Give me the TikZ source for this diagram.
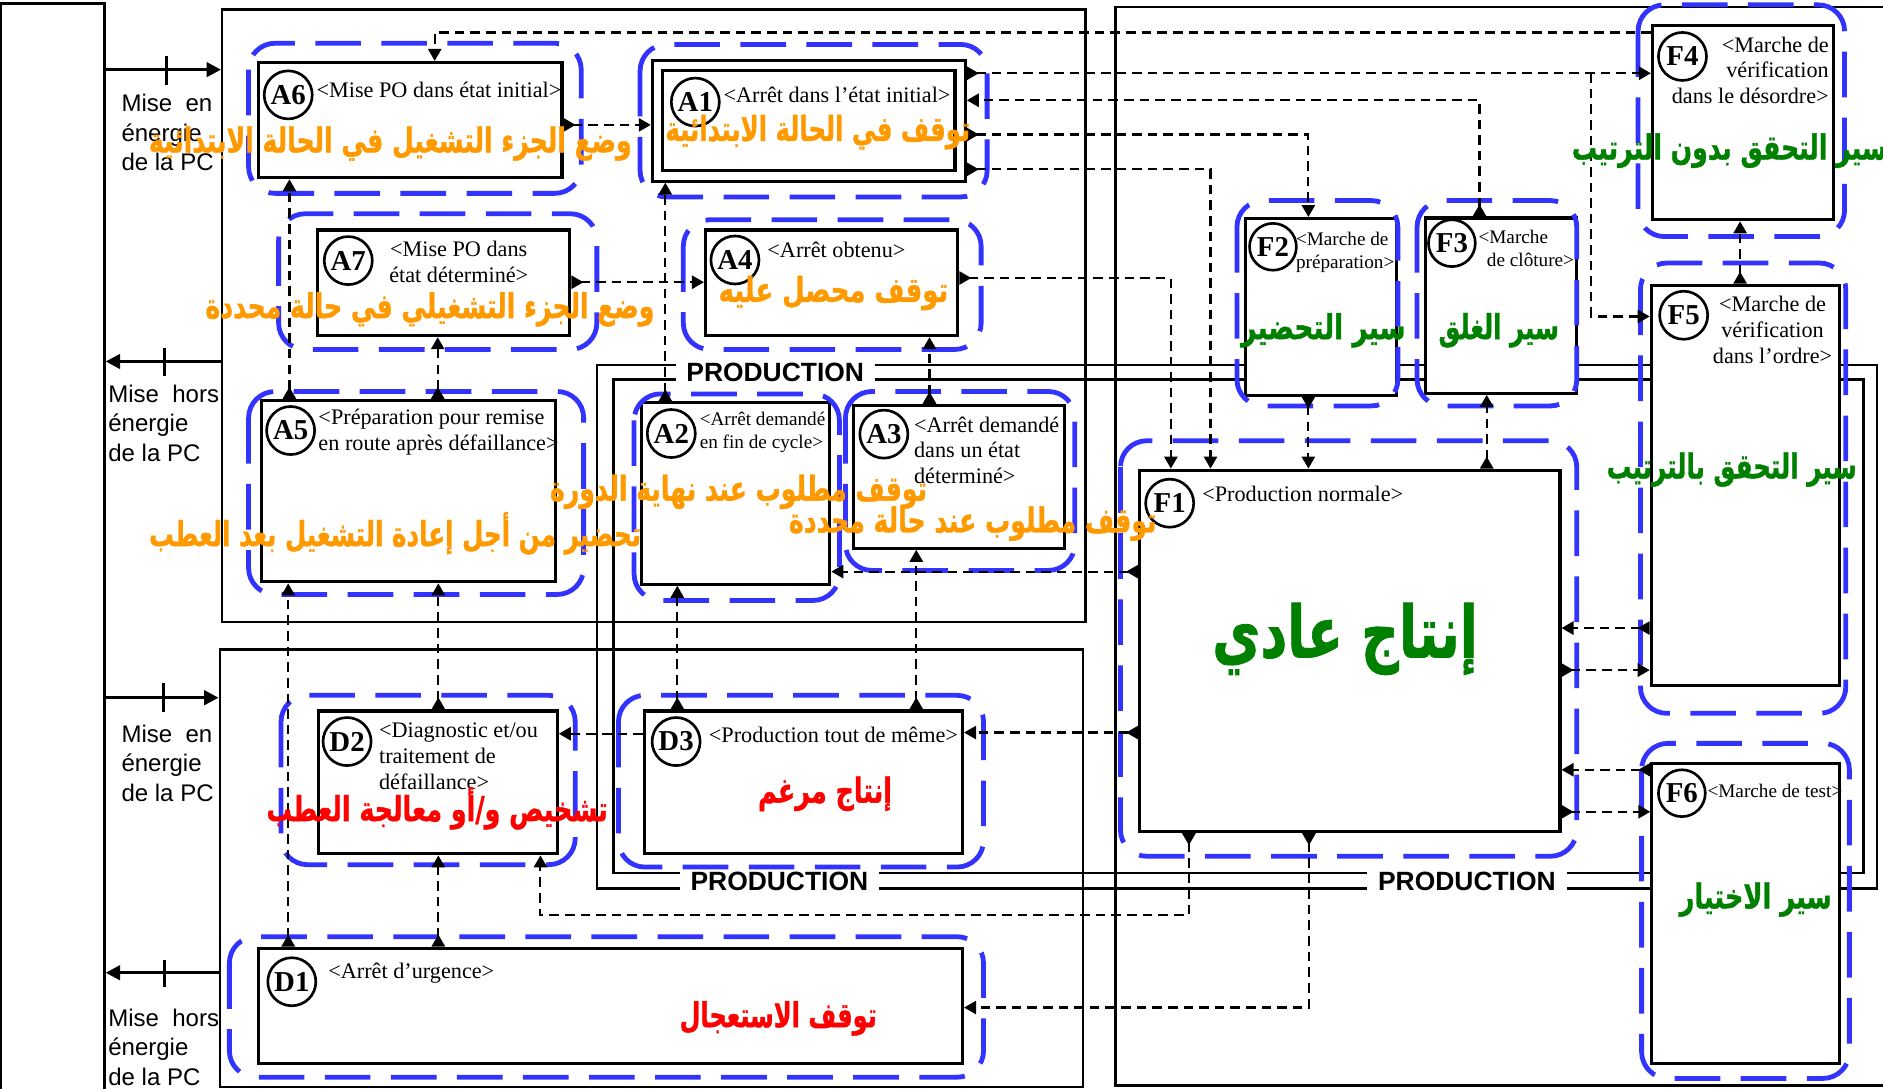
\documentclass[tikz,border=0pt]{standalone}
\usepackage{fontspec}
\usepackage{graphicx}
\setmainfont{Liberation Serif}
\setsansfont{Liberation Sans}
\newfontfamily\arabicfont[Script=Arabic, BoldFeatures={FakeBold=1.2}]{DejaVu Sans}
\TeXXeTstate=1
\usetikzlibrary{arrows.meta}

\definecolor{bleu}{RGB}{51,51,255}
\definecolor{orangeA}{RGB}{255,153,0}
\definecolor{vertF}{RGB}{0,128,0}
\definecolor{rougeD}{RGB}{255,0,0}

% arabic name, narrowed and raised a little to the look of the figure
\newcommand{\artexte}[2][0.95]{\scalebox{#1}[1.3]{\beginR #2\endR}}

\tikzset{
  etat/.style={draw, line width=2.6pt, fill=white, inner sep=0pt},
  num/.style={circle, draw, line width=2.2pt, fill=white, inner sep=0pt,
    minimum size=40pt, font=\bfseries\fontsize{24}{24}\selectfont},
  lbl/.style={inner sep=0pt, font=\fontsize{18.5}{21.5}\selectfont},
  lblp/.style={inner sep=0pt, font=\fontsize{16}{19}\selectfont},
  cadre/.style={draw=bleu, line width=4pt, dash pattern=on 38pt off 17pt,
    rounded corners=22pt},
  fleche/.style={line width=1.8pt, dash pattern=on 8pt off 5pt,
    -{Triangle[length=10pt,width=11pt]}},
  fleche2/.style={fleche,
    {Triangle[reversed,length=10pt,width=11pt]}-{Triangle[length=10pt,width=11pt]}},
  ar/.style={inner sep=0pt, font=\arabicfont\bfseries\fontsize{22}{22}\selectfont},
  zone/.style={draw, line width=2pt, inner sep=0pt},
  prod/.style={line width=2.2pt},
  prodlbl/.style={fill=white, inner xsep=9pt, inner ysep=2pt,
    font=\sffamily\bfseries\fontsize{22}{22}\selectfont},
  pc/.style={inner sep=0pt, align=left, anchor=west,
    font=\sffamily\fontsize{20}{24.5}\selectfont},
  alim/.style={line width=2.6pt, -{Triangle[length=12pt,width=12pt]}},
}

\begin{document}
\begin{tikzpicture}[x=1pt, y=-1pt]
  \useasboundingbox (0,0) rectangle (1568,906);

  % zones
  \node[zone, minimum width=86pt, minimum height=909pt] (pcbar) at (44,457.5) {};
  \node[zone, minimum width=719pt, minimum height=510pt] (boxA) at (544.5,263) {};
  \node[zone, minimum width=719pt, minimum height=364pt] (boxD) at (542.5,723) {};
  \node[zone, minimum width=646pt, minimum height=898pt] (boxF) at (1252,455) {};

  % production frame (double line)
  \draw[prod] (497,304) rectangle (1563,740);
  \draw[prod] (511,316) rectangle (1552,727);
  \node[prodlbl] (prodA) at (645.5,310) {PRODUCTION};
  \node[prodlbl] (prodD) at (649,734) {PRODUCTION};
  \node[prodlbl] (prodF) at (1221.5,734) {PRODUCTION};

  % A states
  \node[etat, minimum width=253pt, minimum height=96pt] (A6) at (341.5,100) {};
  \node[num] (nA6) at (240,79) {A6};
  \node[lbl] (tA6) at (365.5,75) {<Mise PO dans état initial>};

  \node[etat, double, double distance=6pt, outer sep=5.6pt,
    minimum width=252pt, minimum height=92pt] (A1) at (673.5,100.5) {};
  \node[num] (nA1) at (579,85) {A1};
  \node[lbl] (tA1) at (697,79) {<Arrêt dans l'état initial>};

  \node[etat, minimum width=210pt, minimum height=88pt] (A7) at (369.5,235.5) {};
  \node[num] (nA7) at (290,217) {A7};
  \node[lbl, align=center] (tA7) at (382,218) {<Mise PO dans\\état déterminé>};

  \node[etat, minimum width=210pt, minimum height=88pt] (A4) at (692.5,235.5) {};
  \node[num] (nA4) at (612,216.5) {A4};
  \node[lbl] (tA4) at (696.5,208) {<Arrêt obtenu>};

  \node[etat, minimum width=245pt, minimum height=151pt] (A5) at (340,409) {};
  \node[num] (nA5) at (242,358.5) {A5};
  \node[lbl, align=left, anchor=west] (tA5) at (265,360)
    {<Préparation pour remise\\en route après défaillance>};

  \node[etat, minimum width=157pt, minimum height=151pt] (A2) at (612.5,411) {};
  \node[num] (nA2) at (559,361) {A2};
  \node[lblp, align=left, anchor=west] (tA2) at (582.5,360) {<Arrêt demandé\\en fin de cycle>};

  \node[etat, minimum width=176pt, minimum height=119pt] (A3) at (798.5,397) {};
  \node[num] (nA3) at (736,361.5) {A3};
  \node[lbl, align=left, anchor=west] (tA3) at (761,375) {<Arrêt demandé\\dans un état\\déterminé>};

  % F states
  \node[etat, minimum width=350pt, minimum height=301pt] (F1) at (1124,542) {};
  \node[num] (nF1) at (974,419) {F1};
  \node[lbl, anchor=west] (tF1) at (1001,411) {<Production normale>};

  \node[etat, minimum width=126pt, minimum height=147pt] (F2) at (1100,255.5) {};
  \node[num, minimum size=39pt] (nF2) at (1060,205.5) {F2};
  \node[lblp, align=left, anchor=west] (tF2) at (1079,210) {<Marche de\\préparation>};

  \node[etat, minimum width=126pt, minimum height=146pt] (F3) at (1250,254.5) {};
  \node[num, minimum size=39pt] (nF3) at (1209,202.5) {F3};
  \node[lblp, align=left, anchor=west] (tF3) at (1231,207) {<Marche\\\hspace*{7pt}de clôture>};

  \node[etat, minimum width=151pt, minimum height=162pt] (F4) at (1451.5,102) {};
  \node[num] (nF4) at (1401,47) {F4};
  \node[lbl, align=right, anchor=east] (tF4) at (1523,58.5) {<Marche de\\vérification\\dans le désordre>};

  \node[etat, minimum width=157pt, minimum height=333pt] (F5) at (1453.5,404) {};
  \node[num] (nF5) at (1402,262.5) {F5};
  \node[lbl, align=center] (tF5) at (1476,274.5) {<Marche de\\vérification\\dans l'ordre>};

  \node[etat, minimum width=156pt, minimum height=250pt] (F6) at (1453.5,760.5) {};
  \node[num, minimum size=39pt] (nF6) at (1400.5,660.5) {F6};
  \node[lblp] (tF6) at (1478,659) {<Marche de test>};

  % D states
  \node[etat, minimum width=199pt, minimum height=119pt] (D2) at (364.5,651.5) {};
  \node[num] (nD2) at (289,617.5) {D2};
  \node[lbl, align=left, anchor=west] (tD2) at (315.5,629.5) {<Diagnostic et/ou\\traitement de\\défaillance>};

  \node[etat, minimum width=265pt, minimum height=119pt] (D3) at (669,651.5) {};
  \node[num] (nD3) at (563,617.5) {D3};
  \node[lbl] (tD3) at (694,612) {<Production tout de même>};

  \node[etat, minimum width=586pt, minimum height=96pt] (D1) at (508.5,837.5) {};
  \node[num] (nD1) at (243,817.5) {D1};
  \node[lbl] (tD1) at (342.5,810.5) {<Arrêt d’urgence>};

  % blue groups
  \draw[cadre] (207,36) rectangle (484,161);
  \draw[cadre] (533,37) rectangle (822,164);
  \draw[cadre] (232,178) rectangle (497,291);
  \draw[cadre] (569,183) rectangle (817,291);
  \draw[cadre] (207,326) rectangle (486,495);
  \draw[cadre] (528,328) rectangle (699,500);
  \draw[cadre] (704,326) rectangle (895,475);
  \draw[cadre] (234,579) rectangle (479,720);
  \draw[cadre] (515,579) rectangle (819,722);
  \draw[cadre] (191,780) rectangle (819,897);
  \draw[cadre] (933,367) rectangle (1313,713);
  \draw[cadre] (1030,167) rectangle (1164,338);
  \draw[cadre] (1180,167) rectangle (1313,338);
  \draw[cadre] (1364,4) rectangle (1536,197);
  \draw[cadre] (1366,219) rectangle (1537,594);
  \draw[cadre] (1367,619) rectangle (1540,898);

  % transitions
  \draw[fleche] (F4.west |- 0,27) -| (362,0 |- A6.north);
  \draw[fleche2] (A6.east |- 0,104) -- (A1.west |- 0,104);
  \draw[fleche2] (A7.east |- 0,235) -- (A4.west |- 0,235);
  \draw[fleche2] (A1.east |- 0,61) -- (F4.west |- 0,61);
  \draw[fleche] (1325,61) |- (F5.west |- 0,263.5);
  \draw[fleche2] (1232,0 |- F3.north) |- (A1.east |- 0,83.5);
  \draw[fleche2] (A1.east |- 0,112) -| (1089.5,0 |- F2.north);
  \draw[fleche2] (A1.east |- 0,141) -| (1008,0 |- F1.north);
  \draw[fleche2] (A4.east |- 0,231.5) -| (975,0 |- F1.north);
  \draw[fleche2] (774,0 |- A3.north) -- (774,0 |- A4.south);
  \draw[fleche2] (241,0 |- A5.north) -- (241,0 |- A6.south);
  \draw[fleche2] (364.5,0 |- A5.north) -- (364.5,0 |- A7.south);
  \draw[fleche2] (554,0 |- A2.north) -- (554,0 |- A1.south);
  \draw[fleche2] (F1.west |- 0,476) -- (A2.east |- 0,476);
  \draw[fleche2] (564,0 |- D3.north) -- (564,0 |- A2.south);
  \draw[fleche2] (763,0 |- D3.north) -- (763,0 |- A3.south);
  \draw[fleche2] (365,0 |- D2.north) -- (365,0 |- A5.south);
  \draw[fleche2] (240,0 |- D1.north) -- (240,0 |- A5.south);
  \draw[fleche2] (365,0 |- D1.north) -- (365,0 |- D2.south);
  \draw[fleche2] (990,0 |- F1.south) |- (450,762) -- (450,0 |- D2.south);
  \draw[fleche2] (1090,0 |- F1.south) |- (D1.east |- 0,839);
  \draw[fleche2] (F1.west |- 0,610) -- (D3.east |- 0,610);
  \draw[fleche] (D3.west |- 0,611) -- (D2.east |- 0,611);
  \draw[fleche2] (1089.5,0 |- F2.south) -- (1089.5,0 |- F1.north);
  \draw[fleche2] (1238,0 |- F1.north) -- (1238,0 |- F3.south);
  \draw[fleche2] (1449,0 |- F5.north) -- (1449,0 |- F4.south);
  \draw[fleche2] (F5.west |- 0,523) -- (F1.east |- 0,523);
  \draw[fleche2] (F1.east |- 0,558) -- (F5.west |- 0,558);
  \draw[fleche2] (F6.west |- 0,641) -- (F1.east |- 0,641);
  \draw[fleche2] (F1.east |- 0,676) -- (F6.west |- 0,676);

  % power of the control part
  \draw[alim] (pcbar.east |- 0,58) -- (boxA.west |- 0,58);
  \draw[line width=2.6pt] (139,47) -- (139,71);
  \draw[alim] (boxA.west |- 0,301) -- (pcbar.east |- 0,301);
  \draw[line width=2.6pt] (137,290) -- (137,313);
  \draw[alim] (pcbar.east |- 0,581) -- (boxD.west |- 0,581);
  \draw[line width=2.6pt] (136,569) -- (136,593);
  \draw[alim] (boxD.west |- 0,810) -- (pcbar.east |- 0,810);
  \draw[line width=2.6pt] (137,799) -- (137,822);
  \node[pc] (pc1) at (101,110.5) {Mise\ \ en\\énergie\\de la PC};
  \node[pc] (pc2) at (90,352.5) {Mise\ \ hors\\énergie\\de la PC};
  \node[pc] (pc3) at (101,635.5) {Mise\ \ en\\énergie\\de la PC};
  \node[pc] (pc4) at (90,872) {Mise\ \ hors\\énergie\\de la PC};

  % arabic names
  \node[ar, text=orangeA] (aA6) at (325,119.5) {\artexte{وضع الجزء التشغيل في الحالة الابتدائية}};
  \node[ar, text=orangeA] (aA1) at (681,110) {\artexte[0.92]{توقف في الحالة الابتدائية}};
  \node[ar, text=orangeA] (aA7) at (358,257.5) {\artexte{وضع الجزء التشغيلي في حالة محددة}};
  \node[ar, text=orangeA] (aA4) at (694,244) {\artexte[0.98]{توقف محصل عليه}};
  \node[ar, text=orangeA] (aA5) at (329,444) {\artexte[0.93]{تحضير من أجل إعادة التشغيل بعد العطب}};
  \node[ar, text=orangeA] (aA2) at (615,409.5) {\artexte{توقف مطلوب عند نهاية الدورة}};
  \node[ar, text=orangeA] (aA3) at (810,436) {\artexte{توقف مطلوب عند حالة محددة}};
  \node[ar, text=vertF, font=\arabicfont\bfseries\fontsize{46}{46}\selectfont] (aF1) at (1120,532) {\artexte{إنتاج عادي}};
  \node[ar, text=vertF] (aF2) at (1102,275) {\artexte[1]{سير التحضير}};
  \node[ar, text=vertF] (aF3) at (1248,275) {\artexte[0.92]{سير الغلق}};
  \node[ar, text=vertF] (aF4) at (1440,125.5) {\artexte{سير التحقق بدون الترتيب}};
  \node[ar, text=vertF] (aF5) at (1442,391) {\artexte[0.93]{سير التحقق بالترتيب}};
  \node[ar, text=vertF] (aF6) at (1462,749) {\artexte[0.97]{سير الاختيار}};
  \node[ar, text=rougeD] (aD2) at (364,673) {\artexte[0.96]{تشخيص و/أو معالجة العطب}};
  \node[ar, text=rougeD] (aD3) at (687,661) {\artexte[0.96]{إنتاج مرغم}};
  \node[ar, text=rougeD] (aD1) at (648,848) {\artexte[0.91]{توقف الاستعجال}};
\end{tikzpicture}
\end{document}
